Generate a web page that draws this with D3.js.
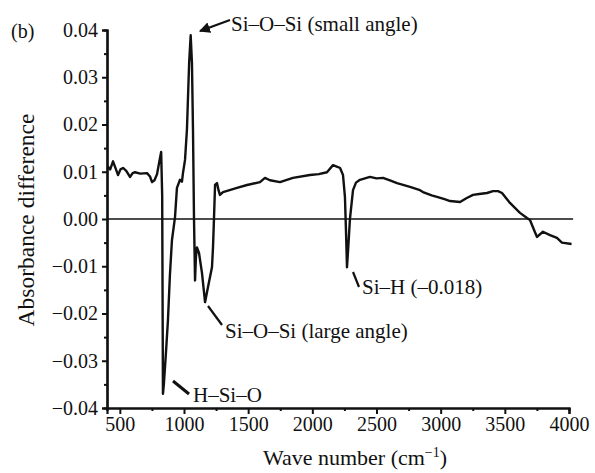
<!DOCTYPE html>
<html>
<head>
<meta charset="utf-8">
<script src="https://d3js.org/d3.v7.min.js"></script>
<style>
  body { margin: 0; background: #fff; }
  text { font-family: "Liberation Serif", "Times New Roman", serif; fill: #111; }
</style>
</head>
<body>
<div class="canvas"></div>
<script>
// spectrum (wave number in cm-1, absorbance difference)
const waveNumbers = [405, 410, 425, 447, 470, 486, 505, 525, 550, 579, 600, 618, 660, 712, 735, 751, 770, 790, 810, 822,
  830, 836, 843, 860, 875, 890, 906, 930, 945, 969, 984, 992, 1008, 1023, 1040, 1052, 1062, 1070, 1078, 1086,
  1093, 1101, 1117, 1140, 1164, 1187, 1218, 1226, 1234, 1242, 1257, 1270, 1280, 1304, 1413, 1491, 1592, 1631, 1670, 1748,
  1849, 1981, 2050, 2114, 2161, 2200, 2216, 2239, 2254, 2262, 2270, 2280, 2293, 2317, 2340, 2371, 2449, 2500, 2551, 2610, 2660, 2761, 2839,
  2862, 2930, 2971, 3030, 3073, 3151, 3200, 3252, 3300, 3361, 3408, 3447, 3478, 3540, 3618, 3673, 3696, 3735, 3751, 3797, 3852, 3906, 3945, 4020];
const absDiff = [0.0105, 0.011, 0.0105, 0.0122, 0.0105, 0.0093, 0.0105, 0.0108, 0.0102, 0.0089, 0.0097, 0.0099, 0.0096, 0.0097, 0.009, 0.0078, 0.0082, 0.0095, 0.0125, 0.0142,
  0.005, -0.037, -0.035, -0.028, -0.0214, -0.012, -0.0045, 0.0004, 0.0066, 0.0083, 0.0079, 0.0097, 0.0125, 0.019, 0.033, 0.0389, 0.033, 0.019, 0.0, -0.013,
  -0.008, -0.006, -0.0072, -0.0114, -0.0176, -0.0144, -0.0102, -0.006, 0.0004, 0.0072, 0.0076, 0.006, 0.0051, 0.0057, 0.0066, 0.0072, 0.0078, 0.0087, 0.0082, 0.0078,
  0.0087, 0.0093, 0.0095, 0.0099, 0.0114, 0.011, 0.0108, 0.0093, 0.0047, -0.0023, -0.0102, -0.006, 0.0, 0.0061, 0.0077, 0.0083, 0.0089, 0.0086, 0.0087, 0.0081, 0.0076, 0.0068, 0.0061,
  0.0057, 0.0050, 0.0047, 0.0042, 0.0038, 0.0036, 0.0044, 0.0051, 0.0053, 0.0055, 0.0059, 0.0059, 0.0055, 0.0034, 0.0013, 0.0002, -0.0002, -0.0028, -0.0038, -0.0027, -0.0034, -0.004, -0.005, -0.0053];

const xTicks = [500, 1000, 1500, 2000, 2500, 3000, 3500, 4000];
const yTicks = [-0.04, -0.03, -0.02, -0.01, 0.00, 0.01, 0.02, 0.03, 0.04];

// peak labels
const labels = ['Si\u2013O\u2013Si (small angle)', 'Si\u2013O\u2013Si (large angle)', 'Si\u2013H (\u20130.018)', 'H\u2013Si\u2013O'];

const width = 595, height = 473;
const plot = { left: 107, right: 569, top: 30, bottom: 408 };

const svg = d3.select('.canvas').append('svg')
  .attr('width', width)
  .attr('height', height);

svg.append('rect').attr('width', width).attr('height', height).attr('fill', '#fff');

const x = d3.scaleLinear().domain([400, 4000]).range([plot.left, plot.right]);
const y = d3.scaleLinear().domain([-0.04, 0.04]).range([plot.bottom, plot.top]);

// zero line
svg.append('line')
  .attr('x1', x(400)).attr('x2', x(4032))
  .attr('y1', y(0)).attr('y2', y(0))
  .attr('stroke', '#111').attr('stroke-width', 1.6);

// spectrum
const line = d3.line().x(d => x(d[0])).y(d => y(d[1]));
svg.append('path')
  .datum(waveNumbers.map((w, i) => [w, absDiff[i]]))
  .attr('d', line)
  .attr('fill', 'none')
  .attr('stroke', '#111')
  .attr('stroke-width', 2.4)
  .attr('stroke-linejoin', 'round');

// axes
const xAxis = svg.append('g')
  .attr('transform', `translate(0,${plot.bottom})`)
  .call(d3.axisBottom(x).tickValues(xTicks).tickSize(6).tickPadding(3).tickFormat(d3.format('d')));
const xMinor = svg.append('g')
  .attr('transform', `translate(0,${plot.bottom})`)
  .call(d3.axisBottom(x).tickValues(d3.range(750, 4000, 500)).tickSize(3).tickFormat(''));

const yAxis = svg.append('g')
  .attr('transform', `translate(${plot.left},0)`)
  .call(d3.axisLeft(y).tickValues(yTicks).tickSize(5).tickPadding(4)
    .tickFormat(d => d3.format('.2f')(d).replace('-', '\u2212')));
const yMinor = svg.append('g')
  .attr('transform', `translate(${plot.left},0)`)
  .call(d3.axisLeft(y).tickValues(d3.range(-0.035, 0.04, 0.01)).tickSize(3).tickFormat(''));

[xAxis, xMinor, yAxis, yMinor].forEach(g => {
  g.select('.domain').attr('stroke', '#111').attr('stroke-width', 2.2);
  g.selectAll('.tick line').attr('stroke', '#111').attr('stroke-width', 2);
});
xAxis.selectAll('text').attr('font-size', 20).attr('fill', '#111');
yAxis.selectAll('text').attr('font-size', 20).attr('fill', '#111');

// axis titles
const xTitle = svg.append('text')
  .attr('x', 355).attr('y', 465)
  .attr('text-anchor', 'middle')
  .attr('font-size', 22);
xTitle.append('tspan').text('Wave number (cm');
xTitle.append('tspan').attr('font-size', 14).attr('dy', -8).text('\u22121');
xTitle.append('tspan').attr('dy', 8).text(')');

svg.append('text')
  .attr('transform', 'translate(34,220) rotate(-90)')
  .attr('text-anchor', 'middle')
  .attr('font-size', 23.5)
  .text('Absorbance difference');

svg.append('text')
  .attr('x', 11).attr('y', 38)
  .attr('font-size', 20)
  .text('(b)');

// annotations
svg.append('defs').append('marker')
  .attr('id', 'arrow')
  .attr('viewBox', '0 0 10 10')
  .attr('refX', 9).attr('refY', 5)
  .attr('markerWidth', 5).attr('markerHeight', 5)
  .attr('orient', 'auto')
  .append('path').attr('d', 'M0,0 L10,5 L0,10 z').attr('fill', '#111');

const pointers = [
  { x1: 230, y1: 20, x2: 200, y2: 31, arrow: true, tx: 231, ty: 31 },
  { x1: 208, y1: 306, x2: 222, y2: 325, tx: 225, ty: 338 },
  { x1: 353, y1: 272, x2: 359, y2: 287, tx: 362, ty: 294 },
  { x1: 173, y1: 381, x2: 189, y2: 394, tx: 193, ty: 402 }
];

pointers.forEach((p, i) => {
  const l = svg.append('line')
    .attr('x1', p.x1).attr('y1', p.y1).attr('x2', p.x2).attr('y2', p.y2)
    .attr('stroke', '#111').attr('stroke-width', i === 3 ? 3 : 2.2);
  if (p.arrow) l.attr('marker-end', 'url(#arrow)');
  svg.append('text')
    .attr('x', p.tx).attr('y', p.ty)
    .attr('font-size', 21)
    .text(labels[i]);
});
</script>
</body>
</html>
